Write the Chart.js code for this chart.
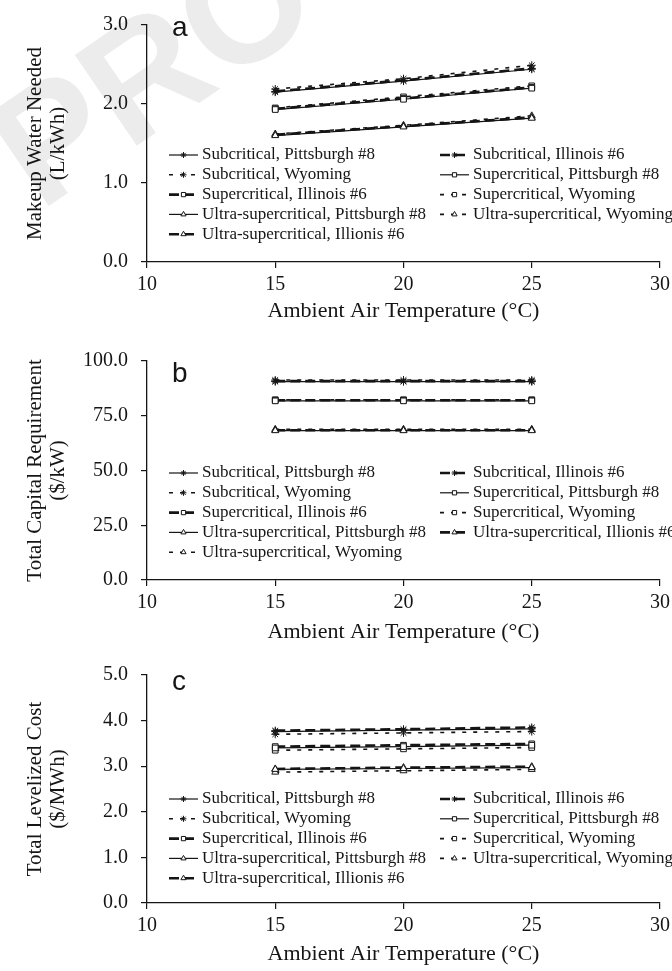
<!DOCTYPE html>
<html>
<head>
<meta charset="utf-8">
<script src="https://cdn.jsdelivr.net/npm/chart.js@4.4.1/dist/chart.umd.min.js"></script>
<style>
  html, body { margin: 0; padding: 0; background: #fff; }
  .panel { position: absolute; left: 0; width: 672px; }
</style>
</head>
<body>
<div class="panel" style="top:0;height:330px"><canvas id="chartA"></canvas></div>
<div class="panel" style="top:330px;height:320px"><canvas id="chartB"></canvas></div>
<div class="panel" style="top:650px;height:321px"><canvas id="chartC"></canvas></div>
<script>
// ambient air temperature, deg C
const temps = [15, 20, 25];

const seriesLabels = [
  'Subcritical, Pittsburgh #8', 'Subcritical, Illinois #6', 'Subcritical, Wyoming',
  'Supercritical, Pittsburgh #8', 'Supercritical, Illinois #6', 'Supercritical, Wyoming',
  'Ultra-supercritical, Pittsburgh #8', 'Ultra-supercritical, Illionis #6', 'Ultra-supercritical, Wyoming'
];

// (a) makeup water needed, L/kWh
const waterSubPitt = [2.15, 2.29, 2.44];
const waterSubIll = [2.16, 2.30, 2.45];
const waterSubWyo = [2.19, 2.32, 2.49];
const waterSupPitt = [1.93, 2.06, 2.20];
const waterSupIll = [1.94, 2.07, 2.21];
const waterSupWyo = [1.95, 2.09, 2.23];
const waterUltPitt = [1.60, 1.71, 1.82];
const waterUltIll = [1.61, 1.72, 1.83];
const waterUltWyo = [1.62, 1.73, 1.85];

// (b) total capital requirement, $/kW
const capSubPitt = [90.6, 90.6, 90.6];
const capSubIll = [90.8, 90.8, 90.8];
const capSubWyo = [91.3, 91.3, 91.3];
const capSupPitt = [81.8, 81.8, 81.8];
const capSupIll = [82.1, 82.1, 82.1];
const capSupWyo = [82.3, 82.3, 82.3];
const capUltPitt = [68.2, 68.2, 68.2];
const capUltIll = [68.4, 68.4, 68.4];
const capUltWyo = [68.8, 68.8, 68.8];

// (c) total levelized cost, $/MWh
const costSubPitt = [3.76, 3.79, 3.82];
const costSubIll = [3.78, 3.81, 3.85];
const costSubWyo = [3.70, 3.73, 3.76];
const costSupPitt = [3.40, 3.43, 3.46];
const costSupIll = [3.43, 3.46, 3.49];
const costSupWyo = [3.35, 3.38, 3.41];
const costUltPitt = [2.93, 2.95, 2.97];
const costUltIll = [2.94, 2.97, 2.99];
const costUltWyo = [2.87, 2.90, 2.93];

const xTicks = [10, 15, 20, 25, 30];

const serif = '"Liberation Serif", "Times New Roman", serif';
const ink = '#151515';

// line look by coal (Pittsburgh, Illinois, Wyoming) and marker by boiler type
const coalStyles = [
  { borderWidth: 1.2, borderDash: [] },
  { borderWidth: 2.6, borderDash: [10, 5] },
  { borderWidth: 1.6, borderDash: [4, 7] }
];
const markers = ['star', 'rect', 'triangle'];

function buildDatasets(series) {
  return series.map((vals, i) => ({
    label: seriesLabels[i],
    data: temps.map((t, k) => ({ x: t, y: vals[k] })),
    borderColor: ink,
    borderWidth: coalStyles[i % 3].borderWidth,
    borderDash: coalStyles[i % 3].borderDash,
    pointStyle: markers[Math.floor(i / 3)],
    pointRadius: 4,
    pointBorderWidth: 1,
    pointBackgroundColor: '#fff',
    pointBorderColor: ink,
    tension: 0,
    fill: false
  }));
}

// two-column legend sitting inside the plot area
const boxLegend = {
  id: 'boxLegend',
  afterDraw(chart, args, o) {
    const ctx = chart.ctx;
    ctx.save();
    o.order.forEach((di, k) => {
      const ds = chart.data.datasets[di];
      const x0 = o.cols[k % 2];
      const y = o.top + Math.floor(k / 2) * o.rowGap;
      ctx.strokeStyle = ink;
      ctx.lineWidth = ds.borderWidth;
      ctx.setLineDash(ds.borderDash);
      ctx.beginPath();
      ctx.moveTo(x0, y);
      ctx.lineTo(x0 + 29, y);
      ctx.stroke();
      ctx.setLineDash([]);
      ctx.lineWidth = 1;
      ctx.fillStyle = '#fff';
      Chart.helpers.drawPoint(ctx, { pointStyle: ds.pointStyle, radius: 3, borderWidth: 1, rotation: 0 }, x0 + 14.5, y);
      ctx.fillStyle = ink;
      ctx.font = '17px ' + serif;
      ctx.textBaseline = 'middle';
      ctx.textAlign = 'left';
      ctx.fillText(ds.label, x0 + 33, y);
    });
    ctx.restore();
  }
};

const panelLetter = {
  id: 'panelLetter',
  afterDraw(chart, args, o) {
    const ctx = chart.ctx;
    ctx.save();
    ctx.fillStyle = ink;
    ctx.font = o.size + 'px "Liberation Sans", Arial, sans-serif';
    ctx.textBaseline = 'alphabetic';
    ctx.fillText(o.text, 172, o.baseline);
    ctx.restore();
  }
};

// faint "PROOF" stamp behind the first panel
const watermark = {
  id: 'watermark',
  beforeDraw(chart, args, o) {
    if (!o.on) return;
    const ctx = chart.ctx;
    ctx.save();
    ctx.translate(40, 212);
    ctx.rotate(-0.6);
    ctx.fillStyle = 'rgba(0,0,0,0.075)';
    ctx.font = 'bold 160px "Liberation Sans", Arial, sans-serif';
    ctx.fillText('PROOF', 0, 0);
    ctx.restore();
  }
};

function makePanel(id, cfg) {
  new Chart(document.getElementById(id), {
    type: 'line',
    data: { datasets: buildDatasets(cfg.series) },
    plugins: [watermark, boxLegend, panelLetter],
    options: {
      responsive: true,
      maintainAspectRatio: false,
      animation: false,
      layout: { padding: { top: cfg.plotTop, right: 12, bottom: 0, left: 0 } },
      plugins: {
        legend: { display: false },
        tooltip: { enabled: false },
        watermark: { on: !!cfg.watermark },
        boxLegend: { order: cfg.legendOrder, cols: [169, 440], top: cfg.legendTop, rowGap: 19.8 },
        panelLetter: { text: cfg.letter, baseline: cfg.letterBase, size: 28 }
      },
      scales: {
        x: {
          type: 'linear',
          min: 10,
          max: 30,
          afterBuildTicks: s => { s.ticks = xTicks.map(v => ({ value: v })); },
          ticks: { color: ink, font: { family: serif, size: 20 }, padding: 5, maxRotation: 0, autoSkip: false },
          grid: { drawOnChartArea: false, tickLength: 6, color: ink, lineWidth: 1.2 },
          border: { color: ink, width: 1.3 },
          title: {
            display: true,
            text: 'Ambient Air Temperature (°C)',
            color: ink,
            font: { family: serif, size: 22, lineHeight: 1.15 },
            padding: { top: 0, bottom: cfg.xTitlePad }
          },
          afterFit: s => { s.height = cfg.xAxisH; s.paddingLeft = 0; s.paddingRight = 0; }
        },
        y: {
          min: 0,
          max: cfg.yMax,
          ticks: {
            stepSize: cfg.yStep,
            color: ink,
            font: { family: serif, size: 20 },
            padding: 13,
            callback: v => Number(v).toFixed(1)
          },
          grid: { drawOnChartArea: false, tickLength: 6, color: ink, lineWidth: 1.2 },
          border: { color: ink, width: 1.3 },
          title: {
            display: true,
            text: cfg.yTitle,
            color: ink,
            font: { family: serif, size: 21, lineHeight: 1.1 },
            padding: { top: 24, bottom: 0 }
          },
          afterFit: s => { s.width = 147; }
        }
      }
    }
  });
}

makePanel('chartA', {
  series: [waterSubPitt, waterSubIll, waterSubWyo, waterSupPitt, waterSupIll, waterSupWyo, waterUltPitt, waterUltIll, waterUltWyo],
  yMax: 3, yStep: 1,
  yTitle: ['Makeup Water Needed', '(L/kWh)'],
  plotTop: 23, xAxisH: 68, xTitlePad: 6,
  legendOrder: [0, 1, 2, 3, 4, 5, 6, 8, 7], legendTop: 155,
  letter: 'a', letterBase: 36,
  watermark: true
});

makePanel('chartB', {
  series: [capSubPitt, capSubIll, capSubWyo, capSupPitt, capSupIll, capSupWyo, capUltPitt, capUltIll, capUltWyo],
  yMax: 100, yStep: 25,
  yTitle: ['Total Capital Requirement', '($/kW)'],
  plotTop: 31, xAxisH: 70, xTitlePad: 5,
  legendOrder: [0, 1, 2, 3, 4, 5, 6, 7, 8], legendTop: 143,
  letter: 'b', letterBase: 52
});

makePanel('chartC', {
  series: [costSubPitt, costSubIll, costSubWyo, costSupPitt, costSupIll, costSupWyo, costUltPitt, costUltIll, costUltWyo],
  yMax: 5, yStep: 1,
  yTitle: ['Total Levelized Cost', '($/MWh)'],
  plotTop: 22, xAxisH: 68, xTitlePad: 4,
  legendOrder: [0, 1, 2, 3, 4, 5, 6, 8, 7], legendTop: 149,
  letter: 'c', letterBase: 40
});
</script>
</body>
</html>
